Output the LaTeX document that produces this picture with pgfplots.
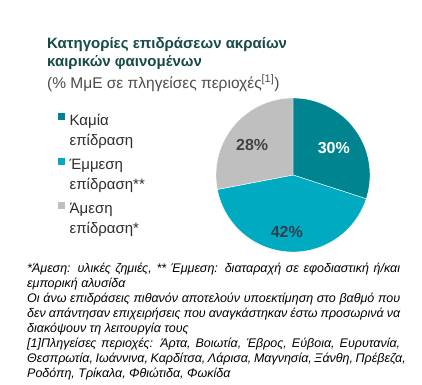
\documentclass[border=0pt]{standalone}
\usepackage{fontspec}
\setmainfont{Liberation Sans}
\usepackage{pgfplots}
\usepackage{pgfplotstable}
\pgfplotsset{compat=1.18}
\definecolor{cKamia}{RGB}{0,132,143}
\definecolor{cEmmesi}{RGB}{0,170,192}
\definecolor{cAmesi}{RGB}{191,191,191}
\definecolor{cTitle}{RGB}{22,74,72}
\definecolor{cText}{RGB}{45,45,45}
\definecolor{cLab}{RGB}{50,62,80}

\pgfplotstableread{
key share
Kamia 30
Emmesi 42
Amesi 28
}\piedata

\newcommand{\jline}[1]{\noindent\makebox[373pt][s]{#1}\par}
\newcommand{\pline}[1]{\noindent #1\par}

\begin{document}
\begin{tikzpicture}[x=1pt,y=1pt]
\fill[white] (0,0) rectangle (422,384);
\path[use as bounding box] (0,0) rectangle (422,384);

\pgfplotstablegetelem{0}{share}\of\piedata \let\sA\pgfplotsretval
\pgfplotstablegetelem{1}{share}\of\piedata \let\sB\pgfplotsretval
\pgfplotstablegetelem{2}{share}\of\piedata \let\sC\pgfplotsretval
\pgfmathsetmacro{\aA}{90-3.6*\sA}
\pgfmathsetmacro{\aB}{\aA-3.6*\sB}
\pgfmathsetmacro{\aC}{\aB-3.6*\sC}

% titles
\node[anchor=base west, inner sep=0pt, font=\fontsize{15}{17}\selectfont\bfseries, text=cTitle] at (47,336) {Κατηγορίες επιδράσεων ακραίων};
\node[anchor=base west, inner sep=0pt, font=\fontsize{15}{17}\selectfont\bfseries, text=cTitle] at (47,318) {καιρικών φαινομένων};
\node[anchor=base west, inner sep=0pt, font=\fontsize{15.5}{17}\selectfont, text=cText!85!white] at (47,296) {(\% ΜμΕ σε πληγείσες περιοχές\textsuperscript{[1]})};

\begin{axis}[
  at={(293pt,209pt)}, anchor=center,
  x=77pt, y=77pt,
  xmin=-1, xmax=1, ymin=-1, ymax=1,
  hide axis, clip=false,
  legend cell align=left,
  legend style={
    at={(axis description cs:-1.032,0.909)}, anchor=north west,
    draw=none, fill=none, inner sep=0pt,
    font=\fontsize{15}{20}\selectfont, text=cText,
    cells={align=left},
    nodes={inner sep=0pt},
    row sep=10pt, column sep=4pt,
  },
  legend image code/.code={\fill[#1] (0pt,10pt) rectangle (8pt,18pt);},
]
\addplot[fill=cKamia, draw=white, line width=0.4pt, domain=\aA:90, samples=80]
  ({cos(x)},{sin(x)}) -- (axis cs:0,0) -- cycle;
\addlegendentry{Καμία\\επίδραση}
\addplot[fill=cEmmesi, draw=white, line width=0.4pt, domain=\aB:\aA, samples=100]
  ({cos(x)},{sin(x)}) -- (axis cs:0,0) -- cycle;
\addlegendentry{Έμμεση\\επίδραση**}
\addplot[fill=cAmesi, draw=white, line width=0.4pt, domain=\aC:\aB, samples=80]
  ({cos(x)},{sin(x)}) -- (axis cs:0,0) -- cycle;
\addlegendentry{Άμεση\\επίδραση*}

\node[font=\fontsize{16}{18}\selectfont\bfseries, text=white] at (axis cs:0.53,0.35) {30\%};
\node[font=\fontsize{16}{18}\selectfont\bfseries, text=cLab] at (axis cs:-0.08,-0.74) {42\%};
\node[font=\fontsize{16}{18}\selectfont\bfseries, text=cText!90!white] at (axis cs:-0.53,0.39) {28\%};
\end{axis}

% footnotes
\node[anchor=base west, inner sep=0pt, text=black] at (27,112) {\parbox[t]{373pt}{\fontsize{12.5}{15}\selectfont\itshape
\jline{*Άμεση: υλικές ζημιές, ** Έμμεση: διαταραχή σε εφοδιαστική ή/και}
\pline{εμπορική αλυσίδα}
\jline{Οι άνω επιδράσεις πιθανόν αποτελούν υποεκτίμηση στο βαθμό που}
\jline{δεν απάντησαν επιχειρήσεις που αναγκάστηκαν έστω προσωρινά να}
\pline{διακόψουν τη λειτουργία τους}
\jline{[1]Πληγείσες περιοχές: Άρτα, Βοιωτία, Έβρος, Εύβοια, Ευρυτανία,}
\jline{Θεσπρωτία, Ιωάννινα, Καρδίτσα, Λάρισα, Μαγνησία, Ξάνθη, Πρέβεζα,}
\pline{Ροδόπη, Τρίκαλα, Φθιώτιδα, Φωκίδα}}};
\end{tikzpicture}
\end{document}
